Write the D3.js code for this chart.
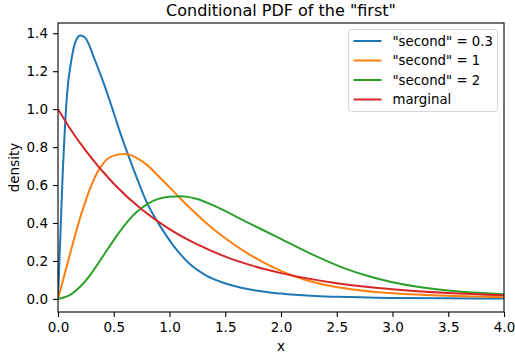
<!DOCTYPE html>
<html>
<head>
<meta charset="utf-8">
<script src="https://cdn.jsdelivr.net/npm/d3@7"></script>
<style>
  body { margin: 0; background: #fff; }
  svg { display: block; font-family: "DejaVu Sans", sans-serif; }
</style>
</head>
<body>
<div class="chartDiv"></div>
<script>
(function(){
  // values
  var blueX   = [0, 0.04, 0.08, 0.12, 0.16, 0.2, 0.24, 0.33, 0.42, 0.5, 0.57, 0.66, 0.735, 0.78, 0.825, 0.915, 1.03, 1.18, 1.33, 1.51, 1.7, 2.0, 2.27, 2.5, 3.0, 3.5, 4.0];
  var blueY   = [0, 0.63, 1.07, 1.26, 1.36, 1.388, 1.379, 1.26, 1.12, 0.98, 0.855, 0.71, 0.595, 0.53, 0.475, 0.385, 0.285, 0.185, 0.123, 0.08, 0.052, 0.028, 0.016, 0.011, 0.005, 0.003, 0.002];
  var orangeX = [0, 0.1, 0.2, 0.3, 0.4, 0.5, 0.6, 0.7, 0.8, 0.9, 1.0, 1.1, 1.2, 1.35, 1.5, 1.7, 1.86, 2.07, 2.27, 2.57, 2.82, 3.0, 3.5, 4.0];
  var orangeY = [0, 0.22, 0.43, 0.6, 0.71, 0.755, 0.763, 0.745, 0.705, 0.648, 0.588, 0.528, 0.47, 0.39, 0.32, 0.24, 0.187, 0.13, 0.092, 0.056, 0.038, 0.03, 0.016, 0.009];
  var greenX  = [0, 0.1, 0.2, 0.3, 0.4, 0.5, 0.6, 0.7, 0.8, 0.9, 1.0, 1.1, 1.24, 1.45, 1.68, 1.98, 2.27, 2.57, 2.82, 3.0, 3.5, 4.0];
  var greenY  = [0, 0.018, 0.065, 0.135, 0.222, 0.31, 0.39, 0.455, 0.5, 0.527, 0.539, 0.541, 0.528, 0.477, 0.409, 0.322, 0.237, 0.161, 0.114, 0.088, 0.044, 0.025];
  var margX   = [0, 0.1, 0.25, 0.5, 0.75, 1.0, 1.25, 1.5, 1.75, 2.0, 2.5, 3.0, 3.5, 4.0];
  var margY   = [1.0, 0.905, 0.78, 0.607, 0.472, 0.368, 0.287, 0.223, 0.174, 0.136, 0.083, 0.051, 0.031, 0.019];

  var labels  = ['"second" = 0.3', '"second" = 1', '"second" = 2', 'marginal'];
  var colors  = ["#1f77b4", "#ff7f0e", "#2ca02c", "#d62728"];
  var xTicks  = [0, 0.5, 1.0, 1.5, 2.0, 2.5, 3.0, 3.5, 4.0];
  var yTicks  = [0, 0.2, 0.4, 0.6, 0.8, 1.0, 1.2, 1.4];

  var width = 515, height = 358;
  var margin = {top: 23, right: 11, bottom: 46, left: 58};
  var plotW = width - margin.left - margin.right,
      plotH = height - margin.top - margin.bottom;

  var zip = function(xs, ys){
    return xs.map(function(x, i){ return [x, ys[i]]; });
  };
  var series = [zip(blueX, blueY), zip(orangeX, orangeY), zip(greenX, greenY), zip(margX, margY)];

  var svg = d3.select(".chartDiv").append("svg")
              .attr("width", width).attr("height", height);
  var g = svg.append("g")
             .attr("transform", "translate(" + margin.left + "," + margin.top + ")");

  var x = d3.scaleLinear().domain([0, 4]).range([0, plotW]);
  var y = d3.scaleLinear().domain([-0.069, 1.454]).range([plotH, 0]);

  g.append("clipPath").attr("id", "clip")
   .append("rect").attr("width", plotW).attr("height", plotH);

  var line = d3.line()
               .x(function(d){ return x(d[0]); })
               .y(function(d){ return y(d[1]); })
               .curve(d3.curveMonotoneX);

  g.append("g").attr("clip-path", "url(#clip)")
   .selectAll("path").data(series).enter().append("path")
   .attr("d", line)
   .attr("fill", "none")
   .attr("stroke", function(d, i){ return colors[i]; })
   .attr("stroke-width", 2)
   .attr("stroke-linejoin", "round");

  // axes
  var xAxis = d3.axisBottom(x).tickValues(xTicks).tickFormat(d3.format(".1f")).tickSize(5).tickPadding(5);
  var yAxis = d3.axisLeft(y).tickValues(yTicks).tickFormat(d3.format(".1f")).tickSize(5).tickPadding(5);

  var gx = g.append("g").attr("transform", "translate(0," + plotH + ")").call(xAxis);
  var gy = g.append("g").call(yAxis);
  [gx, gy].forEach(function(ax){
    ax.select(".domain").remove();
    ax.selectAll("line").attr("stroke", "#000").attr("stroke-width", 1.1);
    ax.selectAll("text").attr("fill", "#000").attr("font-size", "13.5px")
      .attr("font-family", "DejaVu Sans, sans-serif");
  });

  // spines
  g.append("rect").attr("width", plotW).attr("height", plotH)
   .attr("fill", "none").attr("stroke", "#000").attr("stroke-width", 1.1);

  // title and labels
  svg.append("text").attr("x", margin.left + plotW / 2).attr("y", 16)
     .attr("text-anchor", "middle").attr("font-size", "16px")
     .text('Conditional PDF of the "first"');
  svg.append("text").attr("x", margin.left + plotW / 2).attr("y", 351)
     .attr("text-anchor", "middle").attr("font-size", "13.5px").text("x");
  svg.append("text").attr("transform", "translate(19," + (margin.top + plotH / 2) + ") rotate(-90)")
     .attr("text-anchor", "middle").attr("font-size", "13.5px").text("density");

  // legend
  var leg = svg.append("g").attr("transform", "translate(348.5,29.5)");
  leg.append("rect").attr("width", 149).attr("height", 82).attr("rx", 3)
     .attr("fill", "#fff").attr("fill-opacity", 0.8)
     .attr("stroke", "#d6d6d6").attr("stroke-width", 1);
  var rows = leg.selectAll("g.row").data(labels).enter().append("g")
     .attr("transform", function(d, i){ return "translate(0," + (11.5 + i * 19.5) + ")"; });
  rows.append("line").attr("x1", 5).attr("x2", 33)
      .attr("stroke", function(d, i){ return colors[i]; }).attr("stroke-width", 2);
  rows.append("text").attr("x", 44).attr("dy", "0.35em")
      .attr("font-size", "13.3px").text(function(d){ return d; });
})()
</script>
</body>
</html>
